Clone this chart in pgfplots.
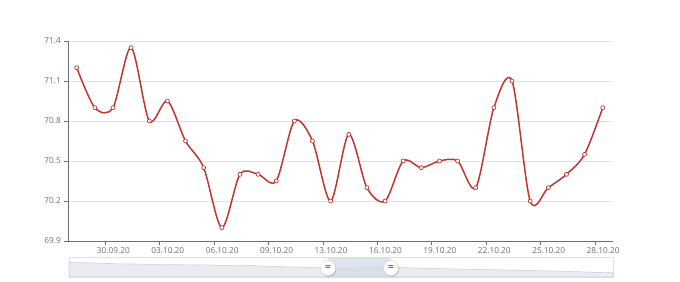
\documentclass[border=0pt]{standalone}
\usepackage{fontspec}
\setmainfont{Open Sans}
\usepackage{pgfplots}
\pgfplotsset{compat=1.18}
\usetikzlibrary{shadows}
\definecolor{linered}{HTML}{C23531}
\definecolor{axisgray}{HTML}{6E7079}
\definecolor{gridgray}{HTML}{E0E3EA}
\definecolor{zoomborder}{HTML}{DCE2EC}
\definecolor{shadowfill}{HTML}{E9ECF0}
\definecolor{shadowline}{HTML}{CDD2DA}
\definecolor{selfill}{HTML}{D3DBE7}
\newcommand{\tickfont}{\fontsize{8.3}{10}\selectfont}
\begin{document}
\begin{tikzpicture}
\useasboundingbox (0,0) rectangle (680bp,282bp);
\begin{axis}[
  at={(68.3bp,41bp)}, anchor=south west,
  scale only axis, width=544.4bp, height=200bp,
  xmin=-0.463, xmax=29.55, ymin=69.9, ymax=71.4,
  axis x line*=bottom, axis y line*=left,
  axis line style={axisgray, line width=0.8bp, -},
  ymajorgrids, grid style={gridgray, line width=0.8bp},
  xtick={1.58,4.58,7.58,10.58,13.58,16.58,19.58,22.58,25.58,28.58},
  xticklabels={30.09.20,03.10.20,06.10.20,09.10.20,13.10.20,16.10.20,19.10.20,22.10.20,25.10.20,28.10.20},
  ytick={69.9,70.2,70.5,70.8,71.1,71.4},
  yticklabels={69.9,70.2,70.5,70.8,71.1,71.4},
  tick align=outside, major tick length=4bp,
  tick style={axisgray, line width=0.8bp},
  xticklabel style={font=\tickfont, text=axisgray, xshift=8bp, yshift=1bp},
  yticklabel style={font=\tickfont, text=axisgray},
  clip=false,
]
\addplot[linered, line width=1.5bp, smooth, tension=0.5,
  mark=*, mark size=2bp, mark options={fill=white, draw=linered, line width=0.7bp}]
coordinates {
(0,71.20) (1,70.90) (2,70.90) (3,71.35) (4,70.80) (5,70.95) (6,70.65) (7,70.45)
(8,70.00) (9,70.40) (10,70.40) (11,70.35) (12,70.80) (13,70.65) (14,70.20)
(15,70.70) (16,70.30) (17,70.20) (18,70.50) (19,70.45) (20,70.50) (21,70.50)
(22,70.30) (23,70.90) (24,71.10) (25,70.20) (26,70.30) (27,70.40) (28,70.55) (29,70.90)
};
\end{axis}
\begin{axis}[
  at={(69bp,5bp)}, anchor=south west,
  scale only axis, width=544bp, height=20bp,
  xmin=69, xmax=613, ymin=0, ymax=20,
  ticks=none, axis line style={zoomborder, line width=0.8bp},
  clip=false,
]
\addplot[fill=shadowfill, draw=shadowline, line width=0.6bp] coordinates {
(69,14.5) (85,14.3) (100,13.8) (115,13.2) (130,13.0) (145,12.8) (160,12.2) (175,12.4)
(190,12.0) (205,12.1) (220,11.6) (235,11.3) (250,11.5) (265,10.8) (280,10.3) (295,10.0)
(310,9.5) (325,9.0) (340,8.7) (355,9.0) (370,9.4) (385,9.6) (400,9.5) (415,9.0)
(430,8.6) (445,8.3) (460,7.8) (475,7.6) (490,7.3) (505,7.0) (520,6.7) (535,6.3)
(550,6.0) (565,5.6) (580,5.2) (595,4.6) (613,4.2)
} \closedcycle;
\addplot[fill=selfill, fill opacity=0.75, draw=none] coordinates {(328,20) (391,20)} \closedcycle;
\node[circle, fill=white, draw=gray!35, line width=0.4bp, minimum size=15bp, inner sep=0pt,
  drop shadow={opacity=0.35, shadow xshift=0.8bp, shadow yshift=-1.2bp}, font=\fontsize{10}{10}\bfseries\selectfont, text=axisgray]
  at (axis cs:328,9) {=};
\node[circle, fill=white, draw=gray!35, line width=0.4bp, minimum size=15bp, inner sep=0pt,
  drop shadow={opacity=0.35, shadow xshift=0.8bp, shadow yshift=-1.2bp}, font=\fontsize{10}{10}\bfseries\selectfont, text=axisgray]
  at (axis cs:391,9) {=};
\end{axis}
\end{tikzpicture}
\end{document}
